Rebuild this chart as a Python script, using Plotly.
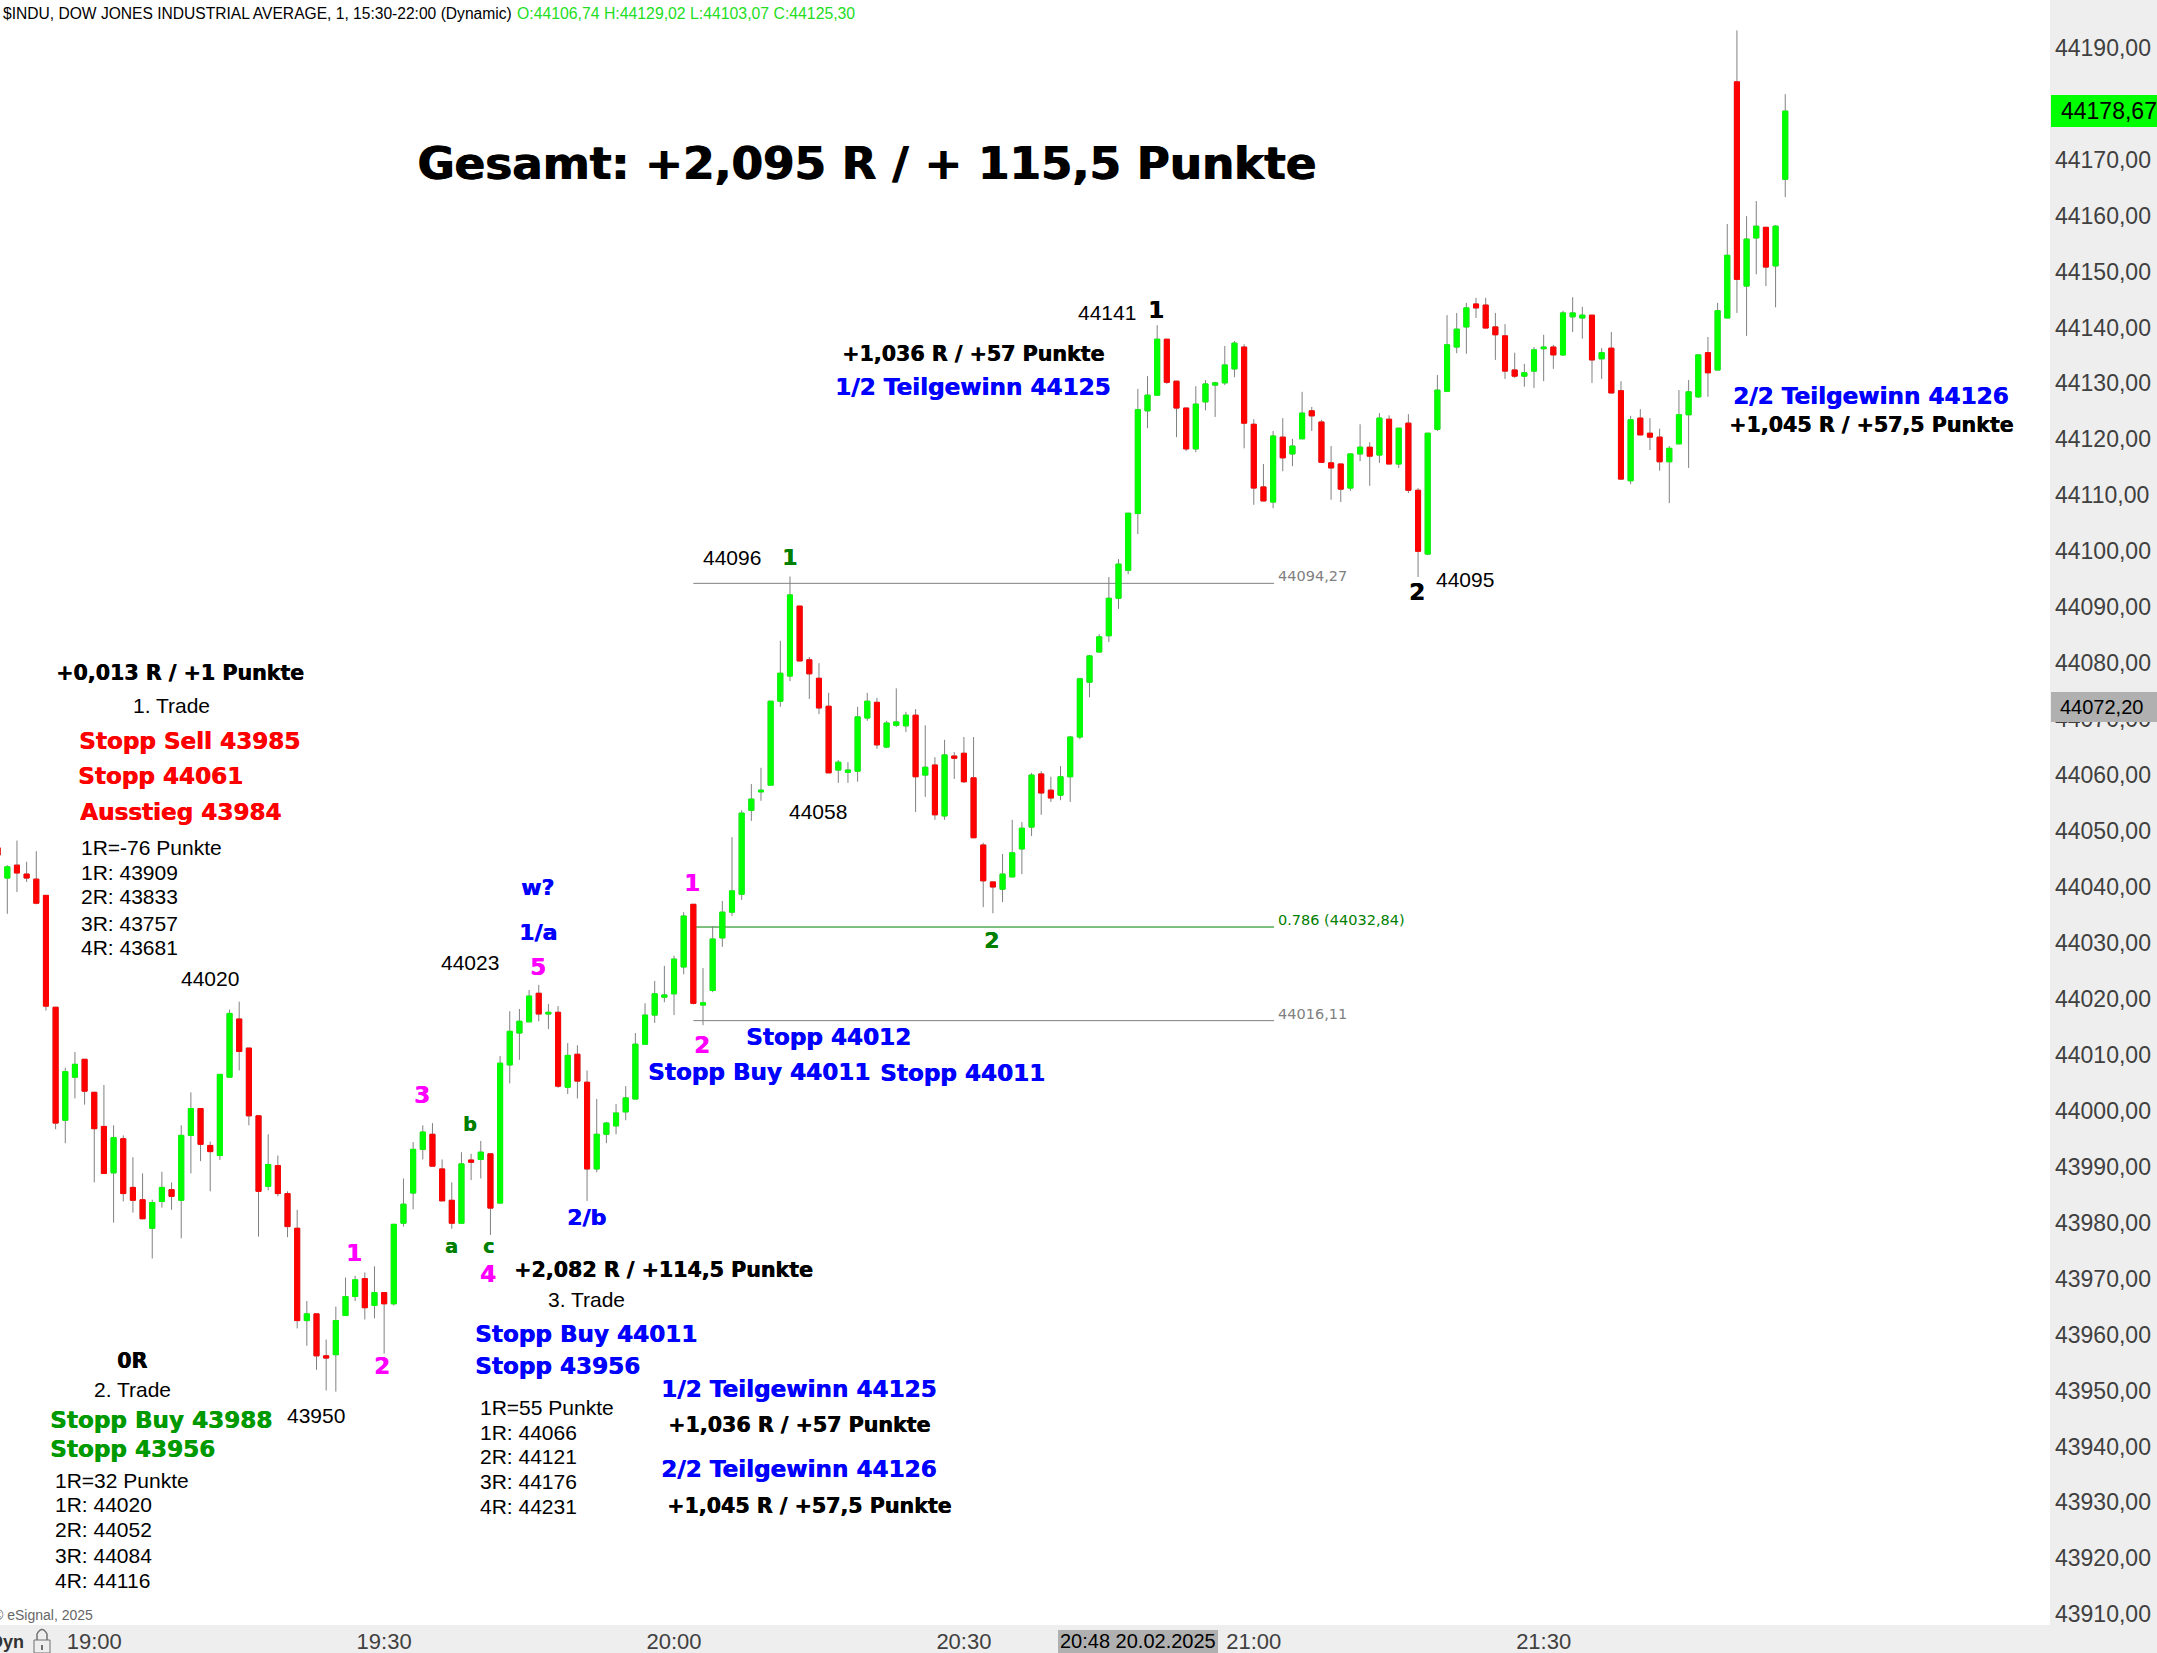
import plotly.graph_objects as go

W, H = 2157, 1653
PLOT_W, PLOT_H = 2050, 1625

first_minute = 1130  # 18:50
opens = [44047.0,44041.6,44043.9,44042.3,44041.4,44038.5,44018.5,43998.3,44006.0,44009.2,
44003.3,43997.2,43988.9,43995.0,43986.3,43984.1,43979.0,43983.8,43985.9,43984.0,
43995.6,44000.4,43993.8,43992.0,44006.0,44016.4,44011.2,43999.1,43986.5,43990.2,
43985.2,43979.0,43962.5,43963.7,43956.2,43956.4,43963.4,43966.8,43970.0,43965.2,
43967.5,43965.5,43979.9,43985.3,43993.1,43995.8,43989.6,43984.0,43979.9,43991.2,
43991.3,43992.3,43983.5,44008.2,44013.9,44015.9,44021.0,44017.3,44017.6,44004.2,
44010.1,44005.1,43989.6,43995.8,43997.3,43999.8,44002.1,44011.9,44017.1,44020.3,
44020.9,44025.7,44036.9,44018.9,44021.5,44030.9,44035.5,44038.7,44053.7,44057.0,
44058.2,44073.2,44077.7,44090.2,44080.6,44077.3,44072.3,44060.9,44060.5,44060.7,
44070.2,44073.0,44065.0,44068.9,44068.8,44070.7,44060.0,44061.8,44052.7,44063.4,
44063.9,44059.5,44047.5,44040.9,44039.6,44041.8,44046.8,44050.7,44060.2,44057.3,
44056.4,44059.7,44066.8,44076.6,44082.0,44084.9,44091.6,44096.6,44106.74,44125.1,
44127.9,44137.9,44130.4,44125.6,44118.3,44126.7,44129.7,44130.1,44132.6,44136.5,
44122.7,44111.5,44108.8,44120.4,44117.4,44120.1,44125.1,44123.1,44115.8,44115.6,
44111.3,44117.4,44118.6,44117.2,44123.6,44115.6,44122.9,44110.9,44099.5,44121.8,
44128.6,44136.5,44140.1,44144.2,44144.0,44140.1,44138.5,44132.4,44131.3,44132.2,
44136.2,44136.5,44135.1,44141.9,44141.7,44142.2,44134.4,44136.3,44128.7,44112.6,
44123.8,44121.1,44120.4,44116.0,44119.2,44124.4,44127.6,44135.5,44132.4,44141.7,
44183.9,44147.4,44156.0,44157.9,44151.0,44166.5]
highs = [44047.5,44043.9,44048.3,44044.5,44046.4,44038.5,44018.5,44007.7,44010.5,44009.2,
44003.3,44004.6,43997.4,43995.6,43991.7,43988.8,43984.1,43989.1,43987.2,43997.4,
44003.3,44000.4,43994.5,44006.5,44018.1,44019.5,44011.2,43999.1,43995.8,43992.0,
43985.6,43982.3,43966.0,43963.7,43959.1,43965.0,43970.2,43970.5,43971.1,43972.2,
43967.5,43979.7,43987.9,43994.4,43997.4,43997.8,43991.3,43987.2,43992.6,43992.3,
43994.6,43992.4,44009.8,44017.8,44018.2,44021.6,44022.5,44019.1,44018.7,44012.1,
44011.7,44007.2,44002.1,43998.0,44001.2,44004.4,44013.9,44019.2,44023.2,44025.9,
44027.7,44035.5,44036.9,44025.5,44033.0,44037.5,44048.9,44053.7,44058.4,44061.3,
44073.2,44084.0,44095.5,44090.2,44081.1,44080.0,44074.7,44062.7,44062.3,44072.2,
44074.7,44073.8,44069.7,44075.5,44071.3,44071.8,44068.9,44063.2,44066.3,44064.1,
44066.8,44066.8,44047.9,44040.9,44045.9,44052.0,44051.6,44060.4,44060.7,44059.7,
44061.6,44067.0,44077.2,44081.5,44085.2,44095.4,44098.6,44106.8,44129.02,44131.3,
44140.4,44137.9,44130.4,44125.6,44129.5,44130.6,44130.3,44136.7,44137.6,44137.0,
44123.6,44115.6,44121.5,44123.8,44120.1,44128.5,44125.8,44123.5,44118.8,44115.6,
44117.4,44122.7,44119.5,44124.7,44124.3,44122.0,44124.5,44111.3,44121.1,44131.5,
44142.2,44142.6,44144.4,44145.3,44145.3,44142.6,44140.6,44135.5,44133.5,44136.5,
44138.7,44136.9,44143.0,44145.4,44143.7,44142.2,44136.3,44139.2,44130.4,44124.2,
44125.4,44123.8,44121.9,44118.8,44128.8,44130.6,44135.1,44138.3,44144.4,44158.5,
44193.1,44159.9,44162.6,44157.9,44158.3,44181.7]
lows = [44045.0,44035.2,44039.1,44040.9,44036.9,44017.9,43996.7,43994.2,44002.2,44001.1,
43987.2,43988.8,43980.0,43983.8,43981.8,43980.7,43973.6,43982.7,43982.3,43977.2,
43988.8,43991.0,43985.6,43991.2,44006.0,44007.2,43997.4,43977.5,43985.8,43984.7,
43977.4,43961.1,43958.0,43953.7,43950.0,43949.8,43963.4,43966.0,43962.7,43962.9,
43956.6,43965.2,43979.3,43982.4,43991.3,43990.1,43983.9,43978.9,43979.9,43987.6,
43987.9,43977.8,43983.5,44004.9,44009.1,44015.9,44016.0,44014.6,44004.1,44003.0,
44002.2,43983.9,43989.0,43994.2,43995.8,43998.3,44002.1,44011.9,44015.7,44019.4,
44017.1,44024.4,44019.0,44015.3,44021.2,44029.3,44034.8,44037.7,44051.8,44055.4,
44058.2,44072.2,44076.8,44080.4,44073.6,44070.9,44060.4,44058.6,44058.6,44058.8,
44069.7,44064.7,44064.8,44068.6,44067.7,44053.4,44056.1,44052.0,44052.0,44059.3,
44058.6,44048.8,44036.4,44035.3,44037.3,44041.8,44042.3,44049.1,44052.9,44055.2,
44055.5,44055.2,44066.4,44073.9,44082.0,44083.8,44089.7,44095.9,44103.07,44122.0,
44127.9,44129.9,44120.4,44117.9,44117.7,44125.2,44124.0,44129.7,44131.1,44118.4,
44108.3,44109.0,44107.7,44114.3,44115.2,44120.1,44121.5,44115.9,44109.2,44108.8,
44110.8,44116.1,44111.7,44115.8,44115.6,44114.9,44110.4,44095.4,44099.3,44121.5,
44128.6,44135.4,44135.3,44141.7,44139.9,44134.2,44130.8,44131.0,44129.4,44129.2,
44130.4,44132.6,44134.9,44139.2,44138.0,44130.1,44130.8,44128.3,44112.8,44112.0,
44120.8,44118.1,44114.4,44108.6,44119.2,44114.9,44127.4,44127.6,44132.4,44141.7,
44142.6,44138.5,44149.5,44147.4,44143.6,44163.3]
closes = [44045.7,44043.6,44042.5,44041.6,44037.1,44018.7,43997.8,44007.0,44008.3,44003.5,
43996.8,43988.8,43995.2,43985.2,43984.0,43980.7,43983.6,43986.3,43984.7,43995.6,
44000.4,43994.0,43992.7,44006.5,44017.4,44010.6,43999.1,43985.6,43990.4,43985.2,
43979.3,43962.5,43963.7,43956.2,43955.8,43962.5,43966.8,43969.8,43964.8,43967.5,
43965.5,43979.7,43983.3,43993.1,43996.2,43990.1,43983.9,43979.9,43990.5,43990.8,
43992.6,43982.6,44008.5,44014.2,44016.0,44020.5,44017.3,44017.6,44004.4,44009.9,
44005.3,43989.6,43995.8,43997.8,43999.6,44002.3,44011.9,44017.1,44020.9,44020.7,
44027.1,44034.8,44019.2,44019.3,44030.7,44035.5,44039.3,44053.2,44055.7,44057.3,
44073.2,44078.2,44092.2,44080.4,44078.1,44072.0,44060.4,44062.3,44060.9,44070.4,
44073.2,44065.4,44069.3,44069.5,44070.7,44059.7,44061.4,44052.9,44063.6,44063.0,
44058.8,44048.8,44041.1,44040.0,44042.3,44046.1,44050.5,44060.0,44056.8,44055.9,
44059.7,44066.8,44077.2,44081.3,44084.7,44091.6,44097.7,44106.8,44125.30,44127.9,
44137.9,44130.2,44125.6,44118.3,44126.3,44129.9,44130.1,44133.3,44137.2,44122.9,
44111.3,44109.0,44120.6,44116.7,44118.8,44124.7,44124.2,44115.9,44114.9,44111.1,
44117.4,44118.6,44117.0,44123.8,44115.6,44122.0,44110.9,44100.0,44121.1,44128.8,
44136.9,44139.7,44143.5,44143.5,44139.9,44138.7,44132.2,44131.3,44131.9,44136.0,
44136.5,44135.1,44142.6,44142.6,44142.2,44134.2,44135.5,44128.3,44112.9,44123.5,
44120.8,44120.4,44116.0,44118.4,44124.4,44128.5,44135.1,44131.9,44143.0,44152.9,
44148.6,44155.8,44158.1,44150.8,44158.1,44178.67]

minutes = [first_minute + k for k in range(len(opens))]
tick_minutes = [1140, 1170, 1200, 1230, 1260, 1290]
tick_times = ["19:00", "19:30", "20:00", "20:30", "21:00", "21:30"]
price_ticks = [43910 + 10 * k for k in range(29)]
price_labels = [f"{p},00" for p in price_ticks]

level_values = [44094.27, 44032.84, 44016.11]
level_colors = ["#808080", "#008000", "#808080"]
level_labels = ["44094,27", "0.786 (44032,84)", "44016,11"]

BOLD = "DejaVu Sans"
ARIAL = "Liberation Sans"
BLACK, BLUE, RED, PINK = "#000000", "#0000FF", "#FF0000", "#FF00FF"
DGREEN, TGREEN = "#008000", "#009900"
GREEN_BAR, RED_BAR, WICK = "#00FF00", "#FF0000", "#808080"

def fx(px): return px / PLOT_W
def fy(py): return 1 - py / PLOT_H

annotations = []
def note(text, px, py, size=21, color=BLACK, bold=False, anchor="center", font=None, heavy=0.6):
    f = dict(family=font or (BOLD if bold else ARIAL), size=size, color=color)
    if bold:
        f["shadow"] = f"{heavy}px 0 0 {color}"
    annotations.append(dict(
        text=f"<b>{text}</b>" if bold else text, x=fx(px), y=fy(py), xref="paper", yref="paper",
        xanchor=anchor, yanchor="middle", showarrow=False, borderpad=0, borderwidth=0, font=f))
def s(v): return v * 2157 / 1568

# title and header
note("Gesamt: +2,095 R / + 115,5 Punkte", s(630), s(118.5), 45.2, BLACK, True, heavy=1.2)
note("$INDU, DOW JONES INDUSTRIAL AVERAGE, 1, 15:30-22:00 (Dynamic)", 3, 13, 15.6, BLACK, anchor="left")
note("O:44106,74 H:44129,02 L:44103,07 C:44125,30", 517, 13, 15.8, "#22DD22", anchor="left")

# first trade
note("+0,013 R / +1 Punkte", s(131), s(489), 20.6, BLACK, True)
note("1. Trade", s(124.5), s(513))
note("Stopp Sell 43985", s(138), s(539), 23.1, RED, True)
note("Stopp 44061", s(116.5), s(564), 23.1, RED, True)
note("Ausstieg 43984", s(131), s(590), 23.1, RED, True)
for t, yy in zip(["1R=-76 Punkte", "1R: 43909", "2R: 43833", "3R: 43757", "4R: 43681"], [616, 634, 652, 671, 689]):
    note(t, s(59), s(yy), anchor="left")

# second trade
note("0R", s(96), s(989), 20.6, BLACK, True)
note("2. Trade", s(96), s(1010))
note("Stopp Buy 43988", s(117), s(1032), 23.1, TGREEN, True)
note("Stopp 43956", s(96), s(1053), 23.1, TGREEN, True)
for t, yy in zip(["1R=32 Punkte", "1R: 44020", "2R: 44052", "3R: 44084", "4R: 44116"], [1076, 1094, 1112, 1131, 1149]):
    note(t, s(40), s(yy), anchor="left")

# third trade
note("+2,082 R / +114,5 Punkte", s(482), s(923), 20.6, BLACK, True)
note("3. Trade", s(426), s(945))
note("Stopp Buy 44011", s(426), s(970), 23.1, BLUE, True)
note("Stopp 43956", s(405.5), s(993), 23.1, BLUE, True)
for t, yy in zip(["1R=55 Punkte", "1R: 44066", "2R: 44121", "3R: 44176", "4R: 44231"], [1023, 1041, 1059, 1077, 1095]):
    note(t, s(349), s(yy), anchor="left")
note("1/2 Teilgewinn 44125", s(581), s(1010), 23.1, BLUE, True)
note("+1,036 R / +57 Punkte", s(581), s(1036), 20.6, BLACK, True)
note("2/2 Teilgewinn 44126", s(581), s(1068), 23.1, BLUE, True)
note("+1,045 R / +57,5 Punkte", s(588), s(1095), 20.6, BLACK, True)

# price marks
for t, xx, yy in [("44020", 152.5, 711), ("44023", 342, 700), ("43950", 230, 1029), ("44058", 594.5, 590),
                  ("44096", 532, 405), ("44141", 805, 227), ("44095", 1065, 421)]:
    note(t, s(xx), s(yy))

# wave counts
for t, xx, yy in [("1", 257, 911), ("2", 278, 993), ("3", 307, 796), ("4", 355, 926), ("5", 391, 703),
                  ("1", 503, 642), ("2", 510, 760)]:
    note(t, s(xx), s(yy), 23, PINK, True)
for t, xx, yy in [("a", 328, 906), ("b", 342, 817), ("c", 355, 906)]:
    note(t, s(xx), s(yy), 19, DGREEN, True)
for t, xx, yy in [("1", 574, 405), ("2", 721, 684)]:
    note(t, s(xx), s(yy), 22, DGREEN, True)
for t, xx, yy in [("1", 840, 225), ("2", 1030, 430)]:
    note(t, s(xx), s(yy), 23, BLACK, True)
for t, xx, yy in [("w?", 391, 645), ("1/a", 391, 678), ("2/b", 426, 885)]:
    note(t, s(xx), s(yy), 22, BLUE, True)

# stops and targets on the chart
note("Stopp 44012", s(602), s(754), 23.1, BLUE, True)
note("Stopp Buy 44011", s(552), s(779), 23.1, BLUE, True)
note("Stopp 44011", s(700), s(780), 23.1, BLUE, True)
note("+1,036 R / +57 Punkte", s(707), s(257), 20.6, BLACK, True)
note("1/2 Teilgewinn 44125", s(707), s(281), 23.1, BLUE, True)
note("2/2 Teilgewinn 44126", s(1360), s(288), 23.1, BLUE, True)
note("+1,045 R / +57,5 Punkte", s(1360), s(309), 20.6, BLACK, True)

# level labels
for lab, col, yy in zip(level_labels, level_colors, [576, 920, 1014]):
    note(lab, 1278, yy, 14.5, col, anchor="left", font="DejaVu Sans")

# footer and badges
note("© eSignal, 2025", 92.5, 1615, 14, "#666666", anchor="right")
note("<b>Dyn</b>", 24, 1642, 18, "#333333", anchor="right")
note("44178,67", 2061, 111, 23, BLACK, anchor="left")
note("44072,20", 2060, 707, 20, BLACK, anchor="left")
note("20:48 20.02.2025", 1138, 1641, 20, BLACK)

def paper_rect(x0, y0, x1, y1, fill, line=None):
    return dict(type="rect", xref="paper", yref="paper", x0=fx(x0), x1=fx(x1), y0=fy(y1), y1=fy(y0),
                fillcolor=fill, line=dict(width=1 if line else 0, color=line or fill), layer="above")

shapes = []
for lv, col in zip(level_values, level_colors):
    shapes.append(dict(type="line", xref="x", yref="y", x0=1202, x1=1262.1, y0=lv, y1=lv,
                       line=dict(color=col, width=1), layer="below"))
shapes += [
    paper_rect(2051, 95, 2157, 127, GREEN_BAR),
    paper_rect(2051, 692, 2157, 722, "#B0B0B0"),
    paper_rect(1058, 1630, 1218, 1653, "#B0B0B0"),
    paper_rect(34, 1640, 50, 1653, "rgba(0,0,0,0)", "#707070"),
    dict(type="path", xref="paper", yref="paper", layer="above", line=dict(color="#707070", width=1.5),
         path=f"M {fx(37)} {fy(1640)} L {fx(37)} {fy(1634)} Q {fx(42)} {fy(1625)} {fx(47)} {fy(1634)} L {fx(47)} {fy(1640)}"),
    paper_rect(41, 1645, 43, 1650, "#707070"),
]

# wick layer: grey high-low range under the bodies
body_high = [max(a, b) for a, b in zip(opens, closes)]
body_low = [min(a, b) for a, b in zip(opens, closes)]
fig = go.Figure()
fig.add_trace(go.Candlestick(
    x=minutes, open=opens, high=highs, low=lows, close=closes, name="$INDU wicks",
    increasing=dict(line=dict(color=WICK, width=1), fillcolor="rgba(0,0,0,0)"),
    decreasing=dict(line=dict(color=WICK, width=1), fillcolor="rgba(0,0,0,0)"),
    hoverinfo="skip", showlegend=False))
fig.add_trace(go.Candlestick(
    x=minutes, open=opens, high=body_high, low=body_low, close=closes, name="$INDU",
    increasing=dict(line=dict(color=GREEN_BAR, width=1), fillcolor=GREEN_BAR),
    decreasing=dict(line=dict(color=RED_BAR, width=1), fillcolor=RED_BAR),
    showlegend=False))

fig.update_layout(
    width=W, height=H, margin=dict(l=0, r=W - PLOT_W, t=0, b=H - PLOT_H, pad=0),
    paper_bgcolor="#EEEEEE", plot_bgcolor="#FFFFFF", showlegend=False,
    boxmode="overlay", boxgap=0.25,
    annotations=annotations, shapes=shapes,
    xaxis=dict(range=[1130.245, 1342.4], rangeslider=dict(visible=False), showgrid=False, zeroline=False,
               tickmode="array", tickvals=tick_minutes, ticktext=tick_times, ticks="", ticklen=0,
               ticklabelstandoff=1,
               tickfont=dict(family=ARIAL, size=22, color="#404040"), showline=False, automargin=False),
    yaxis=dict(range=[43908.09, 44198.53], side="right", showgrid=False, zeroline=False,
               tickmode="array", tickvals=price_ticks, ticktext=price_labels, ticks="", ticklen=0,
               ticklabelstandoff=4,
               tickfont=dict(family=ARIAL, size=23, color="#404040"), showline=False, automargin=False),
)
fig.write_html("out.html", post_script="document.body.style.margin='0';", config=dict(displayModeBar=False))
